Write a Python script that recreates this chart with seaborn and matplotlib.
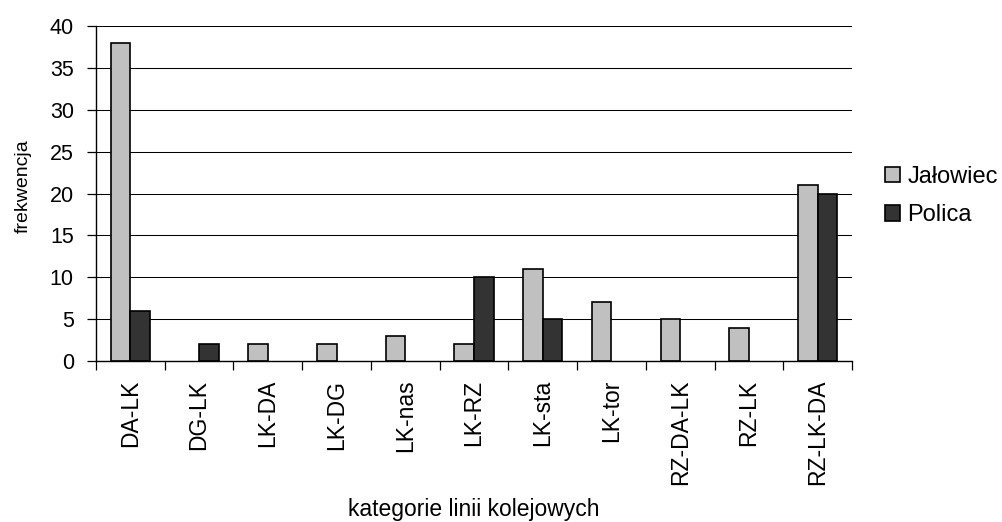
import matplotlib
matplotlib.use("Agg")
import matplotlib.pyplot as plt
import matplotlib.ticker as mticker
import pandas as pd
import seaborn as sns

# Data
categories = ["DA-LK", "DG-LK", "LK-DA", "LK-DG", "LK-nas", "LK-RZ",
              "LK-sta", "LK-tor", "RZ-DA-LK", "RZ-LK", "RZ-LK-DA"]
jalowiec = [38, 0, 2, 2, 3, 2, 11, 7, 5, 4, 21]
polica = [6, 2, 0, 0, 0, 10, 5, 0, 0, 0, 20]
series = ["Jałowiec", "Polica"]
y_ticks = [0, 5, 10, 15, 20, 25, 30, 35, 40]

df = pd.DataFrame({
    "kategoria": categories * 2,
    "seria": [series[0]] * len(categories) + [series[1]] * len(categories),
    "frekwencja": jalowiec + polica,
})

sns.set_theme(style="white")
plt.rcParams["font.family"] = ["Liberation Sans", "DejaVu Sans"]
plt.rcParams.update({"text.color": "black", "axes.labelcolor": "black",
                     "xtick.color": "black", "ytick.color": "black"})

fig = plt.figure(figsize=(10.02, 5.22), dpi=100)
ax = fig.add_axes([0.0958, 0.3084, 0.7545, 0.6418])

ax.yaxis.grid(True, color="black", linewidth=0.75)
ax.set_axisbelow(True)

sns.barplot(data=df, x="kategoria", y="frekwencja", hue="seria",
            order=categories, hue_order=series,
            palette=["#c0c0c0", "#333333"], width=0.571,
            edgecolor="black", linewidth=1.2, ax=ax)

# Excel leaves zero-valued bars out
for cont in ax.containers:
    for bar in cont:
        if bar.get_height() == 0:
            bar.set_visible(False)

ax.set_xlim(-0.5, len(categories) - 0.5)
ax.set_ylim(0, 40)
ax.set_yticks(y_ticks)

# ticks between categories, like Excel
ax.xaxis.set_minor_locator(mticker.FixedLocator(
    [i - 0.5 for i in range(len(categories) + 1)]))
ax.tick_params(axis="x", which="major", length=0, labelsize=16.5,
               labelrotation=90, pad=13.5)
ax.tick_params(axis="x", which="minor", length=6.5, width=0.9,
               direction="out", bottom=True)
ax.tick_params(axis="y", length=6.5, width=0.9, direction="out",
               left=True, labelsize=15.5, pad=9.5)

for side in ["top", "right"]:
    ax.spines[side].set_visible(False)
for side in ["left", "bottom"]:
    ax.spines[side].set_color("black")
    ax.spines[side].set_linewidth(1.0)

ax.set_xlabel("")
ax.set_ylabel("")
fig.text(0.023, 0.644, "frekwencja", rotation=90, ha="center",
         va="center", fontsize=14)
fig.text(0.4725, 0.023, "kategorie linii kolejowych", ha="center",
         va="center", fontsize=16.5)

handles, labels = ax.get_legend_handles_labels()
ax.legend(handles, labels, loc="center left",
          bbox_to_anchor=(0.883, 0.6245), bbox_transform=fig.transFigure,
          frameon=False, fontsize=17, handlelength=0.65, handleheight=0.65,
          handletextpad=0.3, labelspacing=0.7, borderpad=0,
          borderaxespad=0)

fig.savefig("out.png", dpi=100)
